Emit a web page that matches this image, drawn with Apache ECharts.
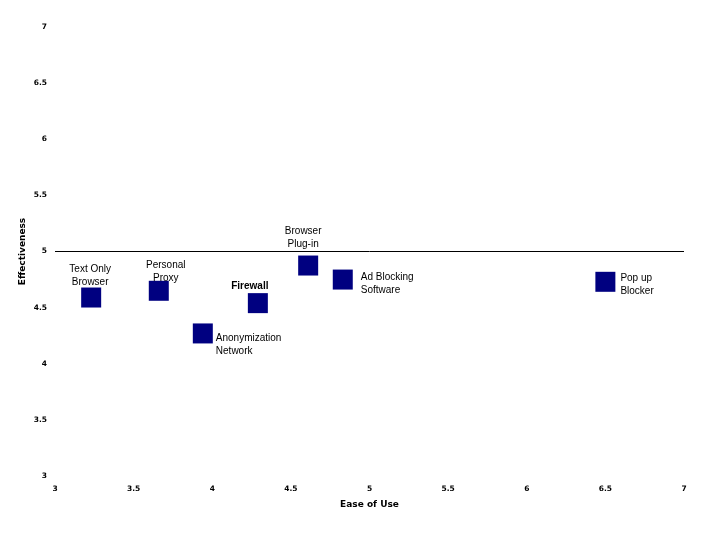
<!DOCTYPE html>
<html>
<head>
<meta charset="utf-8">
<script src="https://cdn.jsdelivr.net/npm/echarts@6/dist/echarts.min.js"></script>
<style>html,body{margin:0;padding:0;background:#fff}#c{width:720px;height:540px}</style>
</head>
<body>
<div id="c"></div>
<script>
// Data
var names = ["Text Only\nBrowser", "Personal\nProxy", "Anonymization\nNetwork", "Firewall", "Browser\nPlug-in", "Ad Blocking\nSoftware", "Pop up\nBlocker"];
var easeOfUse = [3.23, 3.66, 3.94, 4.29, 4.61, 4.83, 6.50];
var effectiveness = [4.59, 4.65, 4.27, 4.54, 4.875, 4.75, 4.73];
var xTicks = [3, 3.5, 4, 4.5, 5, 5.5, 6, 6.5, 7];
var yTicks = [3, 3.5, 4, 4.5, 5, 5.5, 6, 6.5, 7];
var referenceLevel = 5;

// Label placement (styling)
var labelStyles = [
  {position: 'top', distance: 1, offset: [-1, 2]},
  {position: 'top', distance: 0, offset: [7, 4]},
  {position: 'right', distance: 3, offset: [0, 11]},
  {position: 'top', distance: 0, offset: [-8, 0], fontWeight: 'bold'},
  {position: 'top', distance: 5, offset: [-5, 0]},
  {position: 'right', distance: 8, offset: [0, 4]},
  {position: 'right', distance: 5, offset: [0, 3]}
];

var data = names.map(function (n, i) {
  var ls = labelStyles[i];
  return {
    name: n,
    value: [easeOfUse[i], effectiveness[i]],
    label: {
      show: true,
      formatter: n,
      position: ls.position,
      distance: ls.distance,
      offset: ls.offset,
      align: ls.position === 'right' ? 'left' : 'center',
      fontWeight: ls.fontWeight || 'normal',
      color: '#000'
    }
  };
});

var chart = echarts.init(document.getElementById('c'));
var tickFont = {fontFamily: 'DejaVu Sans', fontSize: 7.5, fontWeight: 'bold', color: '#000'};
chart.setOption({
  backgroundColor: '#fff',
  animation: false,
  grid: {left: 55, right: 36, top: 27, bottom: 64},
  xAxis: {
    type: 'value', min: xTicks[0], max: xTicks[xTicks.length - 1], interval: 0.5,
    name: 'Ease of Use', nameLocation: 'middle', nameGap: 24,
    nameTextStyle: {fontFamily: 'DejaVu Sans', fontSize: 9, fontWeight: 'bold', color: '#000'},
    axisLine: {show: false}, axisTick: {show: false}, splitLine: {show: false},
    axisLabel: Object.assign({margin: 9, formatter: function (v) { return String(v); }}, tickFont)
  },
  yAxis: {
    type: 'value', min: yTicks[0], max: yTicks[yTicks.length - 1], interval: 0.5,
    name: 'Effectiveness', nameLocation: 'middle', nameGap: 28,
    nameMoveOverlap: false,
    nameTextStyle: {fontFamily: 'DejaVu Sans', fontSize: 9, fontWeight: 'bold', color: '#000'},
    axisLine: {show: false}, axisTick: {show: false}, splitLine: {show: false},
    axisLabel: Object.assign({margin: 8, formatter: function (v) { return String(v); }}, tickFont)
  },
  series: [{
    type: 'scatter',
    symbol: 'rect',
    symbolSize: [20, 20],
    itemStyle: {color: '#000080', opacity: 1},
    label: {fontFamily: 'Liberation Sans', fontSize: 10, color: '#000', lineHeight: 13},
    data: data,
    markLine: {
      silent: true,
      symbol: 'none',
      label: {show: false},
      lineStyle: {color: '#000', width: 1, type: 'solid', opacity: 1},
      data: [{yAxis: referenceLevel}]
    }
  }]
});
</script>
</body>
</html>
